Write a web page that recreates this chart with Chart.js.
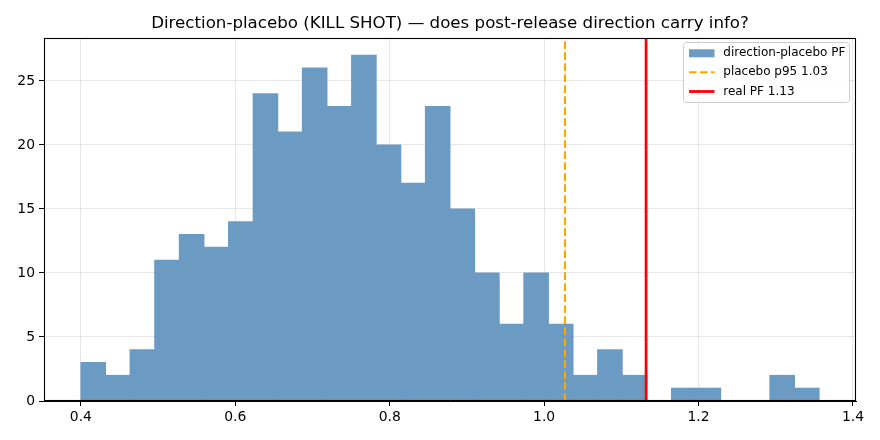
<!DOCTYPE html>
<html>
<head>
<meta charset="utf-8">
<script src="https://cdn.jsdelivr.net/npm/chart.js@4/dist/chart.umd.min.js"></script>
<style>
  html, body { margin: 0; padding: 0; background: #ffffff; }
  #wrap { width: 880px; height: 440px; }
</style>
</head>
<body>
<div id="wrap"><canvas id="c" width="880" height="440"></canvas></div>
<script>
// ---- data ----
const binEdges = [0.40000, 0.43187, 0.46374, 0.49561, 0.52748, 0.55935, 0.59122, 0.62309,
  0.65496, 0.68683, 0.71870, 0.75057, 0.78244, 0.81431, 0.84618, 0.87805, 0.90992,
  0.94179, 0.97366, 1.00553, 1.03740, 1.06927, 1.10114, 1.13301, 1.16488, 1.19675,
  1.22862, 1.26049, 1.29236, 1.32423, 1.35610];
const binCounts = [3, 2, 4, 11, 13, 12, 14, 24, 21, 26, 23, 27, 20, 17, 23, 15, 10, 6, 10, 6,
  2, 4, 2, 0, 1, 1, 0, 0, 2, 1];
const placeboP95 = 1.027;
const realPF = 1.132;
const xTicks = [0.4, 0.6, 0.8, 1.0, 1.2, 1.4];
const yTicks = [0, 5, 10, 15, 20, 25];
const legendLabels = ['direction-placebo PF', 'placebo p95 1.03', 'real PF 1.13'];
const titleText = 'Direction-placebo (KILL SHOT) \u2014 does post-release direction carry info?';

const xMin = 0.3522, xMax = 1.4039, yMax = 28.35;

const barColor = '#6b9bc3';
const histData = binCounts.map((c, i) => ({ x: (binEdges[i] + binEdges[i + 1]) / 2, y: c }));

const FONT = "'DejaVu Sans', sans-serif";
const ORANGE_DASH = [7.7, 3.3];

const framePlugin = {
  id: 'frame',
  afterDatasetsDraw(chart) {
    const { ctx, chartArea: a } = chart;
    ctx.save();
    ctx.strokeStyle = '#000';
    ctx.lineWidth = 1.1;
    ctx.strokeRect(Math.round(a.left) + 0.5, Math.round(a.top) + 0.5,
      Math.round(a.right - a.left) - 1, Math.round(a.bottom - a.top) - 1);
    ctx.restore();
  },
  afterDraw(chart) {
    const { ctx, chartArea: a } = chart;
    ctx.save();
    // title
    ctx.fillStyle = '#000';
    ctx.font = '16.67px ' + FONT;
    ctx.textAlign = 'center';
    ctx.textBaseline = 'alphabetic';
    ctx.fillText(titleText, (a.left + a.right) / 2, 28);

    // legend box
    const bx = 683.5, by = 42.5, bw = 166, bh = 60, r = 3;
    ctx.beginPath();
    ctx.moveTo(bx + r, by);
    ctx.lineTo(bx + bw - r, by);
    ctx.arcTo(bx + bw, by, bx + bw, by + r, r);
    ctx.lineTo(bx + bw, by + bh - r);
    ctx.arcTo(bx + bw, by + bh, bx + bw - r, by + bh, r);
    ctx.lineTo(bx + r, by + bh);
    ctx.arcTo(bx, by + bh, bx, by + bh - r, r);
    ctx.lineTo(bx, by + r);
    ctx.arcTo(bx, by, bx + r, by, r);
    ctx.closePath();
    ctx.fillStyle = 'rgba(255,255,255,0.8)';
    ctx.fill();
    ctx.strokeStyle = '#cccccc';
    ctx.lineWidth = 1;
    ctx.stroke();

    const hx = 689, hw = 25.5, tx = 723.3;
    const rows = [53.3, 72.3, 91.5];
    ctx.fillStyle = barColor;
    ctx.fillRect(hx, rows[0] - 4, hw, 8);
    ctx.strokeStyle = '#ffa500';
    ctx.lineWidth = 2.08;
    ctx.setLineDash(ORANGE_DASH);
    ctx.beginPath(); ctx.moveTo(hx, rows[1]); ctx.lineTo(hx + hw, rows[1]); ctx.stroke();
    ctx.setLineDash([]);
    ctx.strokeStyle = '#ff0000';
    ctx.lineWidth = 2.78;
    ctx.beginPath(); ctx.moveTo(hx, rows[2]); ctx.lineTo(hx + hw, rows[2]); ctx.stroke();

    ctx.fillStyle = '#000';
    ctx.font = '12px ' + FONT;
    ctx.textBaseline = 'middle';
    ctx.textAlign = 'left';
    legendLabels.forEach((t, i) => ctx.fillText(t, tx, rows[i]));
    ctx.restore();
  }
};

new Chart(document.getElementById('c'), {
  type: 'bar',
  data: {
    datasets: [
      {
        type: 'bar',
        label: legendLabels[0],
        data: histData,
        backgroundColor: barColor,
        borderWidth: 0,
        inflateAmount: 0.5,
        barPercentage: 1.0,
        categoryPercentage: 1.0,
        grouped: false,
        order: 3
      },
      {
        type: 'line',
        label: legendLabels[1],
        data: [{ x: placeboP95, y: 0 }, { x: placeboP95, y: yMax }],
        borderColor: '#ffa500',
        borderWidth: 2.08,
        borderDash: ORANGE_DASH,
        pointRadius: 0,
        fill: false,
        order: 2
      },
      {
        type: 'line',
        label: legendLabels[2],
        data: [{ x: realPF, y: 0 }, { x: realPF, y: yMax }],
        borderColor: '#ff0000',
        borderWidth: 2.78,
        pointRadius: 0,
        fill: false,
        order: 1
      }
    ]
  },
  options: {
    responsive: false,
    animation: false,
    devicePixelRatio: 1,
    layout: { padding: { left: 0, right: 24, top: 38, bottom: 0 } },
    plugins: {
      legend: { display: false },
      tooltip: { enabled: false },
      title: { display: false }
    },
    scales: {
      x: {
        type: 'linear',
        min: xMin,
        max: xMax,
        offset: false,
        afterFit(s) { s.height = 39; },
        afterBuildTicks(s) { s.ticks = xTicks.map(v => ({ value: v })); },
        grid: { offset: false, color: 'rgba(176,176,176,0.3)', lineWidth: 1, tickColor: '#000', tickLength: 5, drawTicks: true },
        border: { display: true, color: '#000', width: 1 },
        ticks: {
          color: '#000', padding: 3, maxRotation: 0, autoSkip: false, includeBounds: false,
          font: { family: FONT, size: 13.9 },
          callback: v => Number(v).toFixed(1)
        }
      },
      y: {
        type: 'linear',
        min: 0,
        max: yMax,
        afterFit(s) { s.width = 44; },
        afterBuildTicks(s) { s.ticks = yTicks.map(v => ({ value: v })); },
        grid: { color: 'rgba(176,176,176,0.3)', lineWidth: 1, tickColor: '#000', tickLength: 5 },
        border: { display: true, color: '#000', width: 1 },
        ticks: {
          color: '#000', padding: 4, autoSkip: false, includeBounds: false,
          font: { family: FONT, size: 13.9 },
          callback: v => String(v)
        }
      }
    }
  },
  plugins: [framePlugin]
});
</script>
</body>
</html>
